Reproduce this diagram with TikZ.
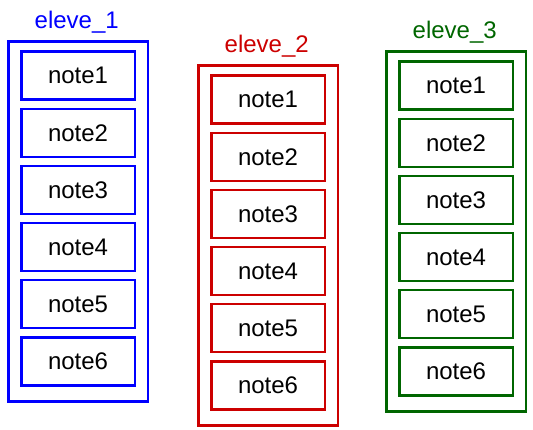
\documentclass[tikz,border=0pt]{standalone}
\usepackage{fontspec}
\setmainfont{Liberation Sans}
\definecolor{cblue}{RGB}{0,0,255}
\definecolor{cred}{RGB}{204,0,0}
\definecolor{cgreen}{RGB}{0,102,0}
\begin{document}
\begin{tikzpicture}[x=1pt,y=-1pt,
  outerbox/.style={draw,line width=2.6pt,minimum width=139.5pt,minimum height=360pt,inner sep=0pt,anchor=north west},
  notebox/.style={draw,line width=2.6pt,minimum width=113.5pt,minimum height=48pt,inner sep=0pt,anchor=north west,text=black,font=\fontsize{24}{26}\selectfont},
  titlelbl/.style={anchor=base,inner sep=0pt,font=\fontsize{24}{26}\selectfont}]
\useasboundingbox (0,0) rectangle (533,430);
\foreach \c/\x/\y/\col in {1/7/40/cblue, 2/197/64/cred, 3/385/50/cgreen}{
  \node[outerbox,draw=\col] (e\c) at (\x,\y) {};
  \node[titlelbl,text=\col] (t\c) at (\x+69.75,\y-11) {eleve\_\c};
  \foreach \k in {1,...,6}{
    \node[notebox,draw=\col] (n\c\k) at (\x+13,\y+10.5+57.1*\k-57.1) {note\k};
  }
}
\end{tikzpicture}
\end{document}
